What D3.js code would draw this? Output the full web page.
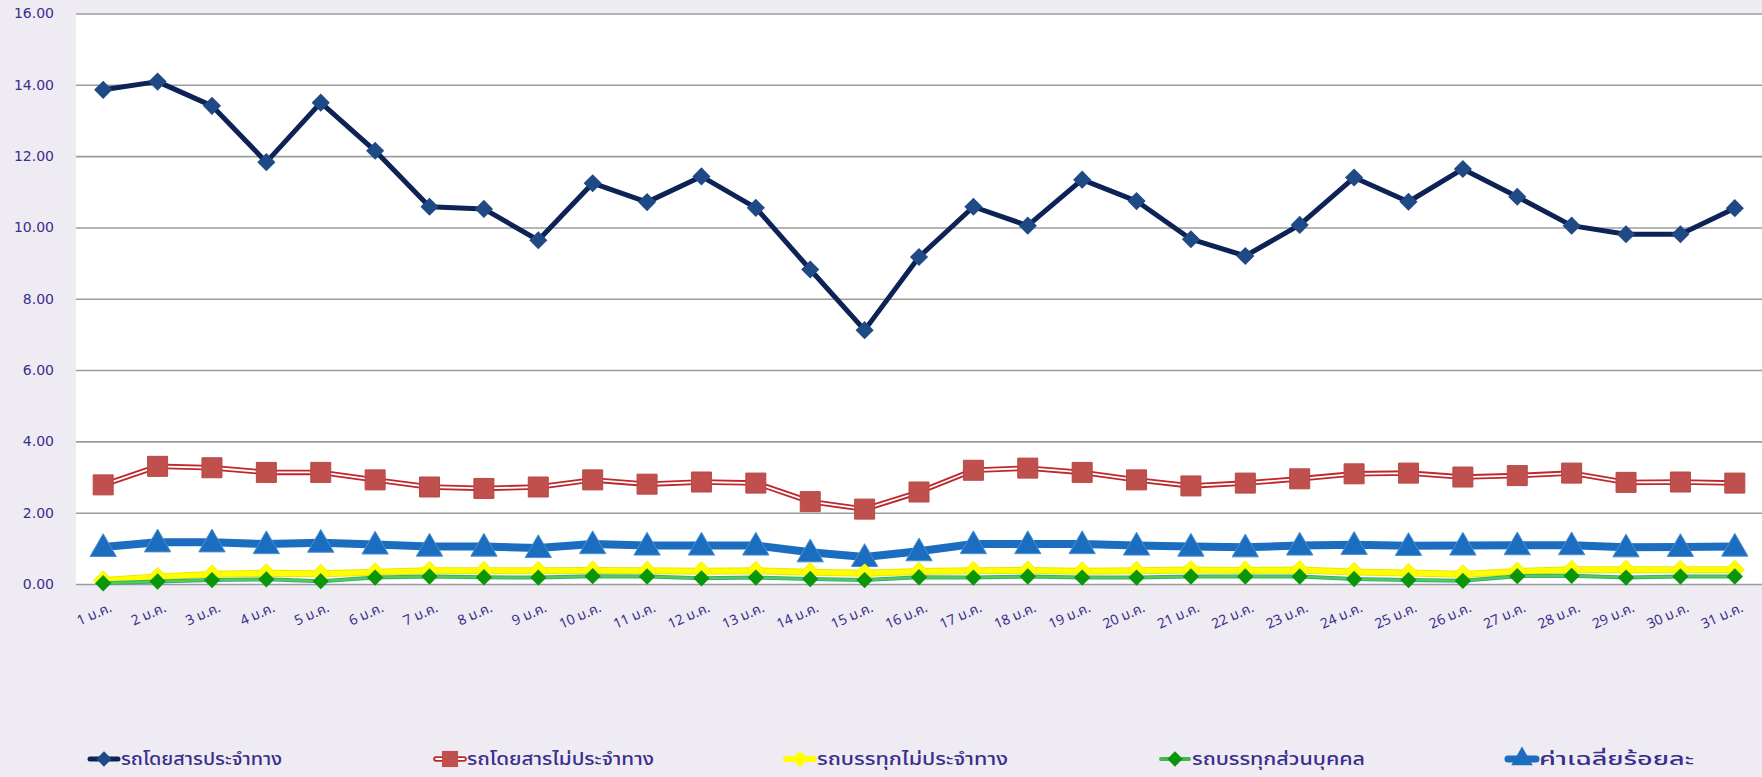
<!DOCTYPE html>
<html>
<head>
<meta charset="utf-8">
<script src="https://cdn.jsdelivr.net/npm/d3@7"></script>
<style>
  html, body { margin: 0; padding: 0; background: #EFEBF2; }
  svg { display: block; }
</style>
</head>
<body>
<svg id="chart" width="1762" height="777"></svg>
<script>
// Daily share (%) by vehicle type, January
const days = ["1 ม.ค.","2 ม.ค.","3 ม.ค.","4 ม.ค.","5 ม.ค.","6 ม.ค.","7 ม.ค.","8 ม.ค.","9 ม.ค.","10 ม.ค.",
  "11 ม.ค.","12 ม.ค.","13 ม.ค.","14 ม.ค.","15 ม.ค.","16 ม.ค.","17 ม.ค.","18 ม.ค.","19 ม.ค.","20 ม.ค.",
  "21 ม.ค.","22 ม.ค.","23 ม.ค.","24 ม.ค.","25 ม.ค.","26 ม.ค.","27 ม.ค.","28 ม.ค.","29 ม.ค.","30 ม.ค.","31 ม.ค."];

const seriesNames = ["รถโดยสารประจำทาง","รถโดยสารไม่ประจำทาง","รถบรรทุกไม่ประจำทาง","รถบรรทุกส่วนบุคคล","ค่าเฉลี่ยร้อยละ"];

const busScheduled = [13.86,14.09,13.41,11.83,13.50,12.15,10.58,10.52,9.64,11.24,
  10.71,11.43,10.55,8.82,7.12,9.17,10.58,10.05,11.34,10.74,
  9.67,9.20,10.07,11.40,10.72,11.64,10.86,10.05,9.81,9.81,10.54];
const busNonScheduled = [2.78,3.30,3.26,3.13,3.13,2.92,2.72,2.68,2.72,2.92,
  2.80,2.86,2.83,2.31,2.10,2.58,3.19,3.25,3.13,2.92,
  2.75,2.83,2.95,3.09,3.11,3.00,3.04,3.11,2.85,2.86,2.83];
const truckNonScheduled = [0.10,0.20,0.27,0.30,0.29,0.33,0.37,0.37,0.37,0.38,
  0.37,0.36,0.37,0.33,0.30,0.35,0.37,0.38,0.36,0.37,
  0.39,0.38,0.39,0.34,0.31,0.27,0.35,0.40,0.40,0.40,0.40];
const truckPrivate = [0.02,0.07,0.11,0.13,0.08,0.18,0.21,0.19,0.18,0.22,
  0.21,0.16,0.18,0.14,0.11,0.19,0.18,0.21,0.18,0.18,
  0.21,0.21,0.21,0.14,0.11,0.09,0.22,0.23,0.18,0.21,0.21];
const averagePct = [1.04,1.17,1.17,1.12,1.16,1.11,1.05,1.05,1.01,1.12,
  1.08,1.08,1.08,0.89,0.76,0.92,1.12,1.12,1.12,1.08,
  1.05,1.03,1.08,1.10,1.07,1.08,1.09,1.09,1.03,1.04,1.05];

const yTicks = [0,2,4,6,8,10,12,14,16];

const svg = d3.select("#chart");
const plot = { left: 76, right: 1762, top: 13.5, bottom: 584 };

const x = d3.scalePoint().domain(days).range([plot.left, plot.right]).padding(0.5);
const y = d3.scaleLinear().domain([0, 16]).range([plot.bottom, plot.top]);

const labelColor = "#3A2E8E";
const thaiFont = "'Noto Sans Thai','Noto Sans Thai UI','Loma','Garuda','Norasi','Tlwg Typo','Noto Sans','DejaVu Sans',sans-serif";

// plot background
svg.append("rect")
  .attr("x", plot.left).attr("y", plot.top)
  .attr("width", plot.right - plot.left).attr("height", plot.bottom - plot.top)
  .attr("fill", "#ffffff");

// horizontal gridlines
svg.append("g")
  .attr("transform", `translate(${plot.left},0)`)
  .call(d3.axisLeft(y).tickValues(yTicks).tickSize(-(plot.right - plot.left)).tickFormat(""))
  .call(g => g.select(".domain").remove())
  .call(g => g.selectAll("line").attr("stroke", "#9C9C9C").attr("stroke-width", 1.6));

// y-axis labels
svg.append("g")
  .attr("transform", `translate(${plot.left},0)`)
  .call(d3.axisLeft(y).tickValues(yTicks).tickSize(0).tickPadding(22).tickFormat(d3.format(".2f")))
  .call(g => g.select(".domain").remove())
  .call(g => g.selectAll("text")
    .attr("fill", labelColor)
    .style("font-family", "'DejaVu Sans',Verdana,sans-serif")
    .style("font-size", "14px"));

// x-axis labels, rotated
const xAxis = svg.append("g")
  .attr("transform", `translate(0,${plot.bottom})`)
  .call(d3.axisBottom(x).tickSize(0).tickFormat(d => d));
xAxis.select(".domain").remove();
xAxis.selectAll("text")
  .attr("fill", labelColor)
  .attr("text-anchor", "end")
  .attr("dy", null)
  .attr("y", 0)
  .attr("transform", "translate(9,27) rotate(-24)")
  .style("font-family", thaiFont)
  .style("font-size", "14px");

// marker shapes
const sym = {
  diamondNavy: d3.symbol().type(d3.symbolDiamond2).size(210),
  square: d3.symbol().type(d3.symbolSquare).size(400),
  diamondYellow: d3.symbol().type(d3.symbolDiamond2).size(230),
  diamondGreen: d3.symbol().type(d3.symbolDiamond2).size(170),
  triangle: d3.symbol().type(d3.symbolTriangle).size(300)
};

const line = vals => d3.line().x((d, i) => x(days[i])).y(d => y(d))(vals);

const layers = svg.append("g");

function drawSeries(vals, opts) {
  const g = layers.append("g");
  opts.strokes.forEach(s => {
    g.append("path").attr("d", line(vals))
      .attr("fill", "none").attr("stroke", s.color).attr("stroke-width", s.width)
      .attr("stroke-linejoin", "round").attr("stroke-linecap", "round");
  });
  g.selectAll("path.m").data(vals).join("path").attr("class", "m")
    .attr("transform", (d, i) => `translate(${x(days[i])},${y(d) + (opts.dy || 0)})`)
    .attr("d", opts.symbol)
    .attr("fill", opts.fill)
    .attr("stroke", opts.stroke || "none")
    .attr("stroke-width", opts.strokeWidth || 0);
}

// average (blue triangles)
drawSeries(averagePct, {
  strokes: [{ color: "#1A6DBF", width: 8 }],
  symbol: sym.triangle, fill: "#1A6DBF", stroke: "#4A90D0", strokeWidth: 1, dy: 2
});
// non-scheduled trucks (yellow)
drawSeries(truckNonScheduled, {
  strokes: [{ color: "#E8E800", width: 7 }, { color: "#FFFF00", width: 5 }],
  symbol: sym.diamondYellow, fill: "#FFFF00", stroke: "#F2F200", strokeWidth: 1
});
// private trucks (green diamonds)
drawSeries(truckPrivate, {
  strokes: [{ color: "#2FAE8A", width: 4 }, { color: "#5CCB4A", width: 2 }],
  symbol: sym.diamondGreen, fill: "#0A960A"
});
// non-scheduled buses (red squares, double line)
drawSeries(busNonScheduled, {
  strokes: [{ color: "#C0272D", width: 5.5 }, { color: "#ffffff", width: 1.8 }],
  symbol: sym.square, fill: "#C0504D", stroke: "#B84845", strokeWidth: 1
});
// scheduled buses (navy diamonds)
drawSeries(busScheduled, {
  strokes: [{ color: "#0D2356", width: 5 }],
  symbol: sym.diamondNavy, fill: "#1F4A85"
});

// legend
const legendX = [87, 433, 783, 1158, 1505];
const legendW = [161, 187, 191, 173, 155];
const legendY = 759;
const legendStyles = [
  { strokes: [{ color: "#0D2356", width: 5 }], symbol: d3.symbol().type(d3.symbolDiamond2).size(150), fill: "#1F4A85" },
  { strokes: [{ color: "#C0272D", width: 5.5 }, { color: "#ffffff", width: 1.8 }], symbol: d3.symbol().type(d3.symbolSquare).size(260), fill: "#C0504D" },
  { strokes: [{ color: "#FFFF00", width: 6 }], symbol: d3.symbol().type(d3.symbolDiamond2).size(170), fill: "#FFFF00" },
  { strokes: [{ color: "#3DBB4A", width: 4 }], symbol: d3.symbol().type(d3.symbolDiamond2).size(150), fill: "#0A960A" },
  { strokes: [{ color: "#1A6DBF", width: 7 }], symbol: d3.symbol().type(d3.symbolTriangle).size(200), fill: "#1A6DBF" }
];
const legend = svg.append("g");
seriesNames.forEach((name, i) => {
  const g = legend.append("g").attr("transform", `translate(${legendX[i]},${legendY})`);
  legendStyles[i].strokes.forEach(s => {
    g.append("line").attr("x1", 3).attr("x2", 31).attr("y1", 0).attr("y2", 0)
      .attr("stroke", s.color).attr("stroke-width", s.width).attr("stroke-linecap", "round");
  });
  g.append("path").attr("transform", "translate(17,0)").attr("d", legendStyles[i].symbol).attr("fill", legendStyles[i].fill);
  g.append("text").attr("x", 34).attr("y", 6)
    .attr("fill", labelColor)
    .attr("textLength", legendW[i]).attr("lengthAdjust", "spacingAndGlyphs")
    .style("font-family", thaiFont).style("font-size", "17px").style("font-weight", "500")
    .text(name);
});
</script>
</body>
</html>
